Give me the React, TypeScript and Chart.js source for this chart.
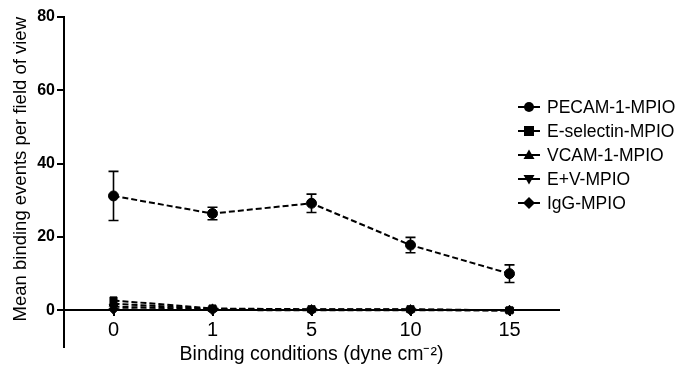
import React, { useEffect, useRef } from "react";
import { Chart, registerables } from "chart.js";

Chart.register(...registerables);

const categories = ["0", "1", "5", "10", "15"];
const pecam = [31.2, 26.4, 29.2, 17.8, 10.0];
const pecamErr = [6.7, 1.7, 2.5, 2.1, 2.4];
const eSelectin = [2.7, 0.5, 0.3, 0.3, 0];
const vcam = [1.8, 0.4, 0.2, 0.2, 0];
const ev = [1.0, 0.3, 0.1, 0.1, 0];
const igg = [0.3, 0.1, 0, 0, 0];
const yTicks = [0, 20, 40, 60, 80];

const seriesNames = ["PECAM-1-MPIO", "E-selectin-MPIO", "VCAM-1-MPIO", "E+V-MPIO", "IgG-MPIO"];

const FONT = "'Liberation Sans', Arial, Helvetica, sans-serif";

const errorBarPlugin = {
  id: "errorBars",
  afterDatasetsDraw(chart: any) {
    const meta = chart.getDatasetMeta(0);
    const ys = chart.scales.y;
    const ctx = chart.ctx;
    ctx.save();
    ctx.strokeStyle = "#000";
    ctx.lineWidth = 1.6;
    meta.data.forEach((pt: any, i: number) => {
      const x = pt.x;
      const top = ys.getPixelForValue(pecam[i] + pecamErr[i]);
      const bot = ys.getPixelForValue(pecam[i] - pecamErr[i]);
      ctx.beginPath();
      ctx.moveTo(x, top);
      ctx.lineTo(x, bot);
      ctx.moveTo(x - 5, top);
      ctx.lineTo(x + 5, top);
      ctx.moveTo(x - 5, bot);
      ctx.lineTo(x + 5, bot);
      ctx.stroke();
    });
    ctx.restore();
  },
};

function LegendIcon({ idx }: { idx: number }) {
  const c = 11;
  const m = 7;
  let shape: any = null;
  if (idx === 0) shape = <circle cx={c} cy={m} r={5} fill="#000" />;
  else if (idx === 1) shape = <rect x={c - 5} y={m - 5} width={10} height={10} fill="#000" />;
  else if (idx === 2) shape = <polygon points={`${c},${m - 5.5} ${c + 5.5},${m + 4} ${c - 5.5},${m + 4}`} fill="#000" />;
  else if (idx === 3) shape = <polygon points={`${c},${m + 5.5} ${c + 5.5},${m - 4} ${c - 5.5},${m - 4}`} fill="#000" />;
  else shape = <polygon points={`${c},${m - 6} ${c + 6},${m} ${c},${m + 6} ${c - 6},${m}`} fill="#000" />;
  return (
    <svg width={22} height={14} style={{ display: "block" }}>
      <line x1={0} y1={m} x2={22} y2={m} stroke="#000" strokeWidth={2} />
      {shape}
    </svg>
  );
}

export default function App() {
  const ref = useRef<HTMLCanvasElement | null>(null);

  useEffect(() => {
    document.body.style.margin = "0";
    if (!ref.current) return;
    const mk = (label: string, data: number[], style: any, rotation = 0) => ({
      label,
      data,
      borderColor: "#000",
      backgroundColor: "#000",
      borderWidth: 2,
      borderDash: [6, 3],
      pointStyle: style,
      pointRotation: rotation,
      pointRadius: 5,
      pointBackgroundColor: "#000",
      pointBorderColor: "#000",
      pointBorderWidth: 1,
      tension: 0,
      fill: false,
    });
    const chart = new Chart(ref.current, {
      type: "line",
      data: {
        labels: categories,
        datasets: [
          mk(seriesNames[0], pecam, "circle"),
          mk(seriesNames[1], eSelectin, "rect"),
          mk(seriesNames[2], vcam, "triangle"),
          mk(seriesNames[3], ev, "triangle", 180),
          mk(seriesNames[4], igg, "rectRot"),
        ],
      },
      options: {
        animation: false,
        responsive: true,
        maintainAspectRatio: false,
        layout: { padding: { top: 17, left: 0, right: 122, bottom: 20 } },
        plugins: {
          legend: { display: false },
          tooltip: { enabled: false },
        },
        scales: {
          x: {
            type: "category",
            offset: true,
            position: { y: 0 } as any,
            grid: {
              display: true,
              drawOnChartArea: false,
              drawTicks: true,
              tickLength: 5,
              color: "#000",
              lineWidth: 2,
              offset: false,
            },
            border: { display: true, color: "#000", width: 2 },
            ticks: {
              color: "#000",
              padding: 3,
              maxRotation: 0,
              font: { family: FONT, size: 20, lineHeight: 1.2 },
            },
            title: {
              display: true,
              text: "Binding conditions (dyne cm\u207B\u00B2)",
              color: "#000",
              padding: { top: 0, bottom: 0 },
              font: { family: FONT, size: 19.5, lineHeight: 1.0 },
            },
          },
          y: {
            type: "linear",
            min: -10,
            max: 80,
            afterBuildTicks: (s: any) => {
              s.ticks = yTicks.map((v) => ({ value: v }));
            },
            afterFit: (s: any) => {
              s.width = 64;
            },
            grid: {
              display: true,
              drawOnChartArea: false,
              drawTicks: true,
              tickLength: 7,
              color: "#000",
              lineWidth: 2,
            },
            border: { display: true, color: "#000", width: 2 },
            ticks: {
              color: "#000",
              padding: 2,
              font: { family: FONT, size: 16, weight: "bold" },
            },
            title: {
              display: true,
              align: "end",
              text: "Mean binding events per field of view",
              color: "#000",
              padding: { top: 12, bottom: 0 },
              font: { family: FONT, size: 18.5, lineHeight: 1.0 },
            },
          },
        },
      } as any,
      plugins: [errorBarPlugin],
    });
    return () => chart.destroy();
  }, []);

  return (
    <div style={{ position: "relative", width: 681, height: 367, background: "#fff" }}>
      <canvas ref={ref} />
      <div style={{ position: "absolute", left: 518, top: 95, fontFamily: FONT, fontSize: 17.5, color: "#000" }}>
        {seriesNames.map((n, i) => (
          <div key={n} style={{ display: "flex", alignItems: "center", height: 24, lineHeight: "24px", whiteSpace: "nowrap" }}>
            <LegendIcon idx={i} />
            <span style={{ marginLeft: 7 }}>{n}</span>
          </div>
        ))}
      </div>
    </div>
  );
}
